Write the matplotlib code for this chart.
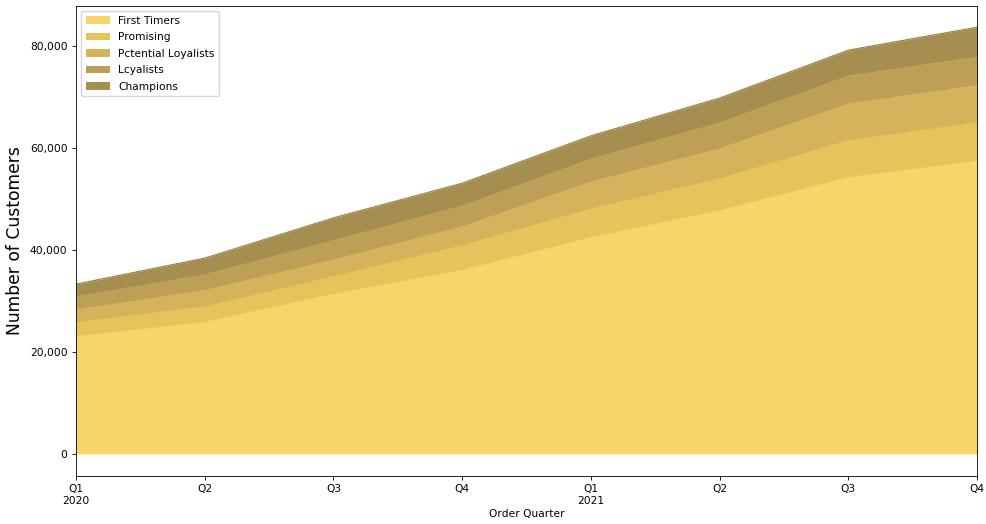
import numpy as np
import matplotlib
matplotlib.use("Agg")
from matplotlib import pyplot as plt
from matplotlib.ticker import FuncFormatter

# trimestres
quarters = ["Q1\n2020", "Q2", "Q3", "Q4", "Q1\n2021", "Q2", "Q3", "Q4"]

# clientes por segmento
first_timers = [23100, 25900, 31400, 36100, 42500, 47800, 54300, 57500]
promising = [2800, 3100, 3500, 4900, 5700, 6300, 7300, 7600]
potential_loyalists = [2500, 3200, 3300, 3700, 5300, 5900, 7200, 7300]
loyalists = [2600, 3100, 3800, 4100, 4500, 5100, 5500, 5600]
champions = [2300, 3100, 4300, 4300, 4400, 4700, 4900, 5700]

labels = ["First Timers", "Promising", "Pctential Loyalists", "Lcyalists", "Champions"]
cores = ["#F8D567", "#E8C35B", "#D4B35C", "#BD9F55", "#A68E51"]
linhas = ["#F2CC55", "#DDB64C", "#C6A44C", "#AE9046", "#978040"]

series = [first_timers, promising, potential_loyalists, loyalists, champions]
x = np.arange(len(quarters))

fig = plt.figure(figsize=(9.87, 5.24), dpi=100)
ax = fig.add_axes([0.077, 0.092, 0.913, 0.897])

base = np.zeros(len(x))
for vals, cor, lc, lab in zip(series, cores, linhas, labels):
    topo = base + np.array(vals)
    ax.fill_between(x, base, topo, color=cor, label=lab, linewidth=0)
    ax.plot(x, topo, color=lc, linewidth=0.8)
    base = topo

ax.set_xlim(0, len(x) - 1)
ax.set_ylim(-4300, 87900)
ax.set_xticks(x)
ax.set_xticklabels(quarters)
ax.yaxis.set_major_formatter(FuncFormatter(lambda v, p: f"{int(v):,}"))
ax.tick_params(labelsize=7.7, length=2.7, width=0.6)
for s in ax.spines.values():
    s.set_linewidth(0.6)

ax.set_xlabel("Order Quarter", fontsize=7.7, labelpad=2)
ax.set_ylabel("Number of Customers", fontsize=12.3)
ax.legend(loc="upper left", fontsize=7.7, handlelength=2.2, labelspacing=0.6,
          borderpad=0.45, framealpha=0.8)

fig.savefig("out.png", dpi=100)
